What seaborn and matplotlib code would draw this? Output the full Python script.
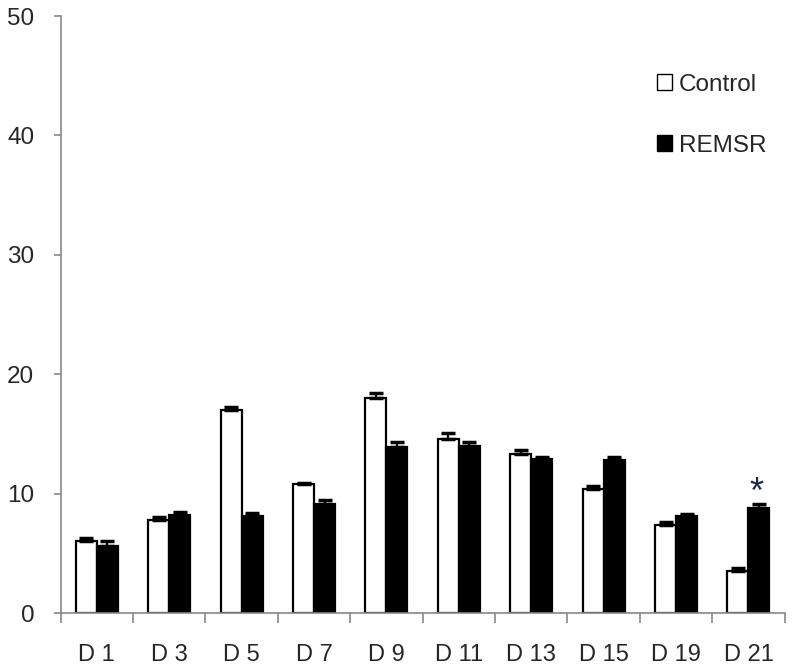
import pandas as pd
import matplotlib
matplotlib.use("Agg")
import matplotlib.pyplot as plt
import seaborn as sns
import numpy as np
from matplotlib.patches import Patch

# Data
days = ["D 1", "D 3", "D 5", "D 7", "D 9", "D 11", "D 13", "D 15", "D 19", "D 21"]
control = [6.0, 7.8, 17.0, 10.8, 18.0, 14.6, 13.3, 10.4, 7.4, 3.5]
remsr = [5.6, 8.2, 8.1, 9.1, 13.9, 14.0, 12.9, 12.8, 8.1, 8.8]
control_err = [0.25, 0.25, 0.22, 0.08, 0.45, 0.45, 0.32, 0.22, 0.25, 0.25]
remsr_err = [0.4, 0.3, 0.3, 0.34, 0.42, 0.3, 0.17, 0.3, 0.2, 0.34]
groups = ["Control", "REMSR"]

df = pd.DataFrame({
    "day": days * 2,
    "value": control + remsr,
    "err": control_err + remsr_err,
    "group": ["Control"] * len(days) + ["REMSR"] * len(days),
})

sns.set_theme(style="white")
plt.rcParams["font.family"] = ["Liberation Sans", "DejaVu Sans"]

fig = plt.figure(figsize=(7.93, 6.7), dpi=100)
ax = fig.add_axes([0.0765, 0.085, 0.913, 0.891])

sns.barplot(data=df, x="day", y="value", hue="group", order=days, hue_order=groups,
            palette={"Control": "white", "REMSR": "black"}, width=0.58,
            edgecolor="black", linewidth=1.6, errorbar=None, legend=False, ax=ax)

# one-sided error bars on top of each bar
for container, g in zip(ax.containers, groups):
    sub = df[df["group"] == g].set_index("day").loc[days]
    xs = [p.get_x() + p.get_width() / 2 for p in container.patches]
    tops = [p.get_height() for p in container.patches]
    ax.errorbar(xs, tops, yerr=[np.zeros(len(xs)), sub["err"].values],
                fmt="none", ecolor="black", elinewidth=1.6, capsize=4.7, capthick=2.5, zorder=1)

# significance marker
d21 = ax.containers[1].patches[-1]
ax.text(d21.get_x() + d21.get_width() / 2 - 0.03, 9.2, "*", ha="center", va="baseline",
        fontsize=26, color="#1c2a4a")

ax.set_ylim(0, 50)
ax.set_xlim(-0.5, len(days) - 0.5)
ax.set_yticks([0, 10, 20, 30, 40, 50])
ax.set_xlabel("")
ax.set_ylabel("")
for s in ["top", "right"]:
    ax.spines[s].set_visible(False)
for s in ["left", "bottom"]:
    ax.spines[s].set_color("#888888")
    ax.spines[s].set_linewidth(1.2)

ax.tick_params(axis="y", which="major", left=True, length=5, width=1.2, color="#888888",
               labelsize=17.5, pad=14)
ax.tick_params(axis="x", which="major", length=0, labelsize=17, pad=22)
ax.set_xticks(np.arange(-0.5, len(days)), minor=True)
ax.tick_params(axis="x", which="minor", bottom=True, length=7, width=1.2, color="#888888")

handles = [Patch(facecolor="white", edgecolor="black", linewidth=1.0, label="Control"),
           Patch(facecolor="black", edgecolor="black", linewidth=1.0, label="REMSR")]
ax.legend(handles=handles, loc="upper left", bbox_to_anchor=(0.793, 0.94), frameon=False,
          fontsize=17.5, handlelength=0.62, handleheight=0.62, handletextpad=0.3,
          labelspacing=1.6)

fig.savefig("out.png", dpi=100)
